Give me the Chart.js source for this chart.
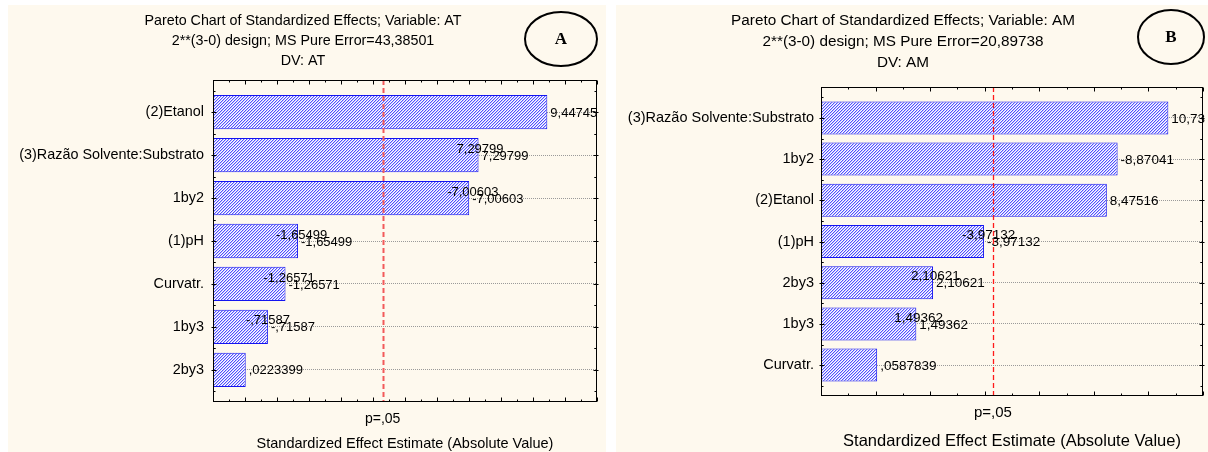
<!DOCTYPE html>
<html>
<head>
<meta charset="utf-8">
<script src="https://cdn.jsdelivr.net/npm/chart.js@4.4.1/dist/chart.umd.min.js"></script>
<style>
  body { margin: 0; background: #fff; width: 1208px; height: 452px; position: relative; overflow: hidden; }
  .panel { position: absolute; top: 5px; height: 447px; background: #fef9ee; }
  #panelA { left: 8px; width: 598px; }
  #panelB { left: 616px; width: 592px; }
</style>
</head>
<body>
<div class="panel" id="panelA"><canvas id="chartA" width="598" height="447"></canvas></div>
<div class="panel" id="panelB"><canvas id="chartB" width="592" height="447"></canvas></div>
<script>
// chart A, variable AT
const labelsA = ['(2)Etanol', '(3)Razão Solvente:Substrato', '1by2', '(1)pH', 'Curvatr.', '1by3', '2by3'];
const effectsA = [9.44745, 7.29799, -7.00603, -1.65499, -1.26571, -0.71587, 0.0223399];
const doubledA = [false, true, true, true, true, true, false];
const titleA = ['Pareto Chart of Standardized Effects; Variable: AT', '2**(3-0) design; MS Pure Error=43,38501', 'DV: AT'];

// chart B, variable AM
const labelsB = ['(3)Razão Solvente:Substrato', '1by2', '(2)Etanol', '(1)pH', '2by3', '1by3', 'Curvatr.'];
const effectsB = [10.73, -8.87041, 8.47516, -3.97132, 2.10621, 1.49362, 0.0587839];
const doubledB = [false, false, false, true, true, true, false];
const titleB = ['Pareto Chart of Standardized Effects; Variable: AM', '2**(3-0) design; MS Pure Error=20,89738', 'DV: AM'];

const pCrit = 4.303; // t(.975; 2 df)
const pLabel = 'p=,05';
const xTitle = 'Standardized Effect Estimate (Absolute Value)';

const FONT = '"Liberation Sans", Arial, sans-serif';

function fmt(v) {
    return String(v).replace('.', ',').replace(/^(-?)0,/, '$1,');
}

function makeHatch() {
    const c = document.createElement('canvas');
    c.width = 3; c.height = 3;
    const g = c.getContext('2d');
    const shades = ['#5050ff', '#c4c4ff', '#ffffff'];
    for (let x = 0; x < 3; x++) {
        for (let y = 0; y < 3; y++) {
            g.fillStyle = shades[(x + y) % 3];
            g.fillRect(x, y, 1, 1);
        }
    }
    return g.createPattern(c, 'repeat');
}

const paretoPlugin = {
    id: 'pareto',
    afterDatasetsDraw(chart) {
        const cfg = chart.options.plugins.pareto;
        const ctx = chart.ctx;
        const a = chart.chartArea;
        const xs = chart.scales.x;
        const meta = chart.getDatasetMeta(0);

        // value labels
        ctx.save();
        ctx.fillStyle = '#000';
        ctx.font = cfg.valueFont + 'px ' + FONT;
        ctx.textAlign = 'left';
        ctx.textBaseline = 'middle';
        meta.data.forEach((bar, i) => {
            const txt = fmt(cfg.effects[i]);
            if (cfg.doubled[i]) ctx.fillText(txt, bar.x - 22, bar.y - 6);
            ctx.fillText(txt, bar.x + 3, bar.y + 1);
        });
        ctx.restore();

        // critical value line
        const px = Math.round(xs.getPixelForValue(pCrit)) + 0.5;
        ctx.save();
        ctx.strokeStyle = cfg.lineColor;
        ctx.lineWidth = cfg.lineWidth;
        ctx.setLineDash(cfg.lineDash);
        ctx.beginPath();
        ctx.moveTo(px, a.top);
        ctx.lineTo(px, a.bottom);
        ctx.stroke();
        ctx.restore();
    },
    afterDraw(chart) {
        const cfg = chart.options.plugins.pareto;
        const ctx = chart.ctx;
        const a = chart.chartArea;
        const xs = chart.scales.x;
        const ys = chart.scales.y;
        const L = Math.round(a.left) + 0.5, R = Math.round(a.right) - 0.5;
        const T = Math.round(a.top) + 0.5, B = Math.round(a.bottom) - 0.5;

        ctx.save();
        ctx.strokeStyle = '#000';
        ctx.lineWidth = 1;
        ctx.strokeRect(L, T, R - L, B - T);

        // x ticks, top and bottom, pointing inward
        ctx.beginPath();
        for (let v = xs.min; v <= xs.max + 1e-9; v += cfg.minorStep) {
            const x = Math.round(xs.getPixelForValue(v)) + 0.5;
            const major = Math.abs(v / cfg.majorStep - Math.round(v / cfg.majorStep)) < 1e-6;
            const len = major ? 4 : 2;
            ctx.moveTo(x, B); ctx.lineTo(x, B - len);
            ctx.moveTo(x, T); ctx.lineTo(x, T + len);
        }
        // y ticks, left and right
        cfg.labels.forEach((l, i) => {
            const y = Math.round(ys.getPixelForValue(i)) + 0.5;
            ctx.moveTo(L - 2, y); ctx.lineTo(L + 3, y);
            ctx.moveTo(R + 2, y); ctx.lineTo(R - 3, y);
            for (const h of [-0.5, 0.5]) {
                const yy = Math.round(ys.getPixelForValue(i + h)) + 0.5;
                ctx.moveTo(L, yy); ctx.lineTo(L + 2, yy);
                ctx.moveTo(R, yy); ctx.lineTo(R - 2, yy);
            }
        });
        ctx.stroke();

        // titles
        ctx.fillStyle = '#000';
        ctx.textAlign = 'center';
        ctx.textBaseline = 'middle';
        ctx.font = cfg.titleFont + 'px ' + FONT;
        cfg.title.forEach((t, i) => ctx.fillText(t, cfg.titleX, cfg.titleY[i]));

        // p=,05 under the line, axis title
        ctx.font = cfg.pFont + 'px ' + FONT;
        ctx.fillText(pLabel, xs.getPixelForValue(pCrit), a.bottom + cfg.pGap);
        ctx.font = cfg.axisFont + 'px ' + FONT;
        ctx.fillText(xTitle, (a.left + a.right) / 2, a.bottom + cfg.axisGap);

        // letter in ellipse
        ctx.lineWidth = 2;
        ctx.beginPath();
        ctx.ellipse(cfg.badge.x, cfg.badge.y, cfg.badge.rx, cfg.badge.ry, 0, 0, Math.PI * 2);
        ctx.stroke();
        ctx.font = 'bold 17px "Liberation Serif", "Times New Roman", serif';
        ctx.fillText(cfg.badge.text, cfg.badge.x, cfg.badge.y + 1);
        ctx.restore();
    }
};

function makeChart(id, cfg) {
    const ctx = document.getElementById(id).getContext('2d');
    return new Chart(ctx, {
        type: 'bar',
        data: {
            datasets: [{
                data: cfg.effects.map((v, i) => ({ x: Math.abs(v), y: i })),
                base: cfg.xMin,
                backgroundColor: makeHatch(),
                borderColor: '#1414f0',
                borderWidth: 1,
                borderSkipped: false,
                barPercentage: 0.8,
                categoryPercentage: 1
            }]
        },
        options: {
            indexAxis: 'y',
            responsive: false,
            animation: false,
            devicePixelRatio: 1,
            layout: { padding: { top: cfg.top, right: cfg.right, left: 0, bottom: 0 } },
            plugins: {
                legend: { display: false },
                tooltip: { enabled: false },
                pareto: cfg
            },
            scales: {
                x: {
                    type: 'linear',
                    min: cfg.xMin,
                    max: cfg.xMax,
                    ticks: { display: false },
                    grid: { display: false },
                    border: { display: false },
                    afterFit: (s) => { s.height = cfg.bottom; }
                },
                y: {
                    type: 'linear',
                    reverse: true,
                    offset: false,
                    min: -0.75,
                    max: cfg.labels.length - 0.25,
                    afterBuildTicks: (s) => { s.ticks = cfg.labels.map((l, i) => ({ value: i })); },
                    ticks: {
                        autoSkip: false,
                        color: '#000',
                        padding: cfg.labelPad,
                        font: { family: FONT, size: cfg.labelFont },
                        callback: (v) => cfg.labels[v]
                    },
                    grid: { color: '#9a9a9a', drawTicks: false, lineWidth: 1, offset: false },
                    border: { display: false, dash: [1, 1] },
                    afterFit: (s) => { s.width = cfg.left; }
                }
            }
        },
        plugins: [paretoPlugin]
    });
}

makeChart('chartA', {
    labels: labelsA, effects: effectsA, doubled: doubledA, title: titleA,
    xMin: -1, xMax: 11, majorStep: 1, minorStep: 0.5,
    top: 75, right: 9, left: 205, bottom: 50,
    titleFont: 14.3, labelFont: 14.4, labelPad: 9, valueFont: 13, pFont: 14, axisFont: 14.5,
    titleX: 295, titleY: [16, 36, 56],
    pGap: 17, axisGap: 42,
    lineColor: '#f25a5a', lineWidth: 2, lineDash: [5, 3],
    badge: { x: 553, y: 34, rx: 36, ry: 27, text: 'A' }
});

makeChart('chartB', {
    labels: labelsB, effects: effectsB, doubled: doubledB, title: titleB,
    xMin: -2, xMax: 12, majorStep: 2, minorStep: 1,
    top: 82, right: 5, left: 205, bottom: 56,
    titleFont: 15.3, labelFont: 14.5, labelPad: 7, valueFont: 13.5, pFont: 15, axisFont: 16.5,
    titleX: 287, titleY: [16, 37, 58],
    pGap: 17, axisGap: 45,
    lineColor: '#ff1a1a', lineWidth: 1.3, lineDash: [5, 3],
    badge: { x: 555, y: 32, rx: 33, ry: 27, text: 'B' }
});
</script>
</body>
</html>
